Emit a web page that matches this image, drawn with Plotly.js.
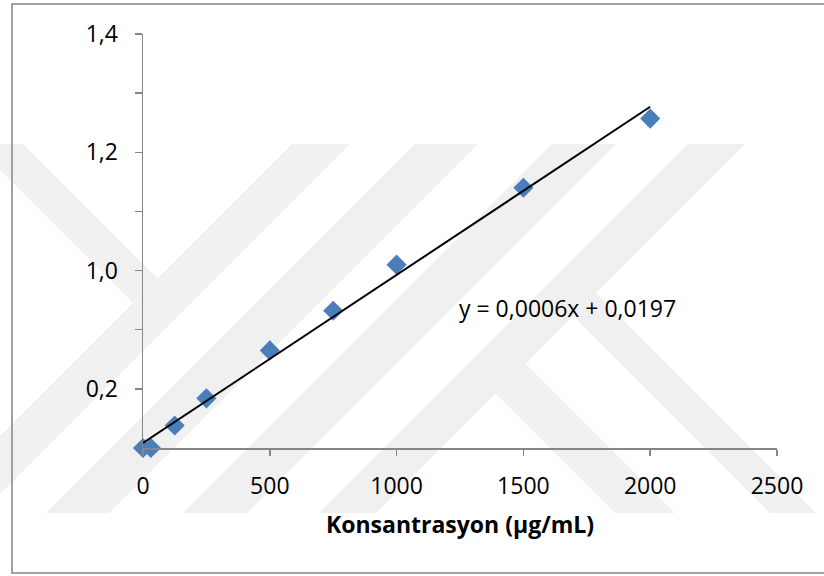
<!DOCTYPE html>
<html>
<head>
<meta charset="utf-8">
<script src="https://cdn.plot.ly/plotly-3.0.1.min.js"></script>
<style>html,body{margin:0;padding:0;background:#fff;}#chart{width:824px;height:576px;}</style>
</head>
<body>
<div id="chart"></div>
<script>
// ---- data ----
const concentration = [0, 31.25, 125, 250, 500, 750, 1000, 1500, 2000];
const absorbance    = [0.700, 0.700, 0.738, 0.784, 0.865, 0.932, 1.010, 1.140, 1.257];
const xTickVals  = [0, 500, 1000, 1500, 2000, 2500];
const xTickText  = ['0', '500', '1000', '1500', '2000', '2500'];
const yTickVals  = [0.8, 0.9, 1.0, 1.1, 1.2, 1.3, 1.4];
const yTickText  = ['0,2', '', '1,0', '', '1,2', '', '1,4'];
const xTitle = 'Konsantrasyon (µg/mL)';
const eqText = 'y = 0,0006x + 0,0197';

// least-squares trend line from the data
const n = concentration.length;
const mx = concentration.reduce((a, v) => a + v, 0) / n;
const my = absorbance.reduce((a, v) => a + v, 0) / n;
let sxy = 0, sxx = 0;
for (let i = 0; i < n; i++) {
  sxy += (concentration[i] - mx) * (absorbance[i] - my);
  sxx += (concentration[i] - mx) ** 2;
}
const slope = sxy / sxx, intercept = my - slope * mx;
const xMin = Math.min(...concentration), xMax = Math.max(...concentration);

// ---- layout geometry ----
const W = 824, H = 576;
const M = {l: 143, r: 47, t: 34, b: 128};
const px = x => (x - M.l) / (W - M.l - M.r);
const py = y => 1 - (y - M.t) / (H - M.t - M.b);

// decorative background watermark (pixel outlines)
const watermark = [
  [[-26,144],[23,144],[157,278],[133,303]],
  [[292,144],[350,144],[-19,513],[-77,513]],
  [[415,144],[478,144],[109,513],[46,513]],
  [[552,144],[616,144],[247,513],[183,513]],
  [[688,144],[745,144],[376,513],[319,513]],
  [[495,393],[525,363],[675,513],[615,513]],
  [[573,316],[596,293],[816,513],[770,513]]
];
const shapes = watermark.map(poly => ({
  type: 'path', xref: 'paper', yref: 'paper', layer: 'below',
  path: 'M ' + poly.map(p => px(p[0]).toFixed(4) + ',' + py(p[1]).toFixed(4)).join(' L ') + ' Z',
  fillcolor: '#f0f0f0', line: {width: 0}
}));
shapes.push({
  type: 'rect', xref: 'paper', yref: 'paper', layer: 'above',
  x0: px(12), x1: px(832), y0: py(573), y1: py(4),
  line: {color: '#a0a0a0', width: 2}, fillcolor: 'rgba(0,0,0,0)'
});

const traces = [
  {
    x: concentration, y: absorbance, type: 'scatter', mode: 'markers',
    marker: {symbol: 'diamond', size: 15.5, color: '#4a7ebb'},
    cliponaxis: false, hoverinfo: 'skip', showlegend: false
  },
  {
    x: [xMin, xMax], y: [intercept + slope * xMin, intercept + slope * xMax],
    type: 'scatter', mode: 'lines',
    line: {color: '#000000', width: 2},
    cliponaxis: false, hoverinfo: 'skip', showlegend: false
  }
];

const layout = {
  width: W, height: H,
  margin: M,
  paper_bgcolor: 'rgba(0,0,0,0)', plot_bgcolor: 'rgba(0,0,0,0)',
  font: {family: 'Open Sans, sans-serif', color: '#000'},
  showlegend: false,
  xaxis: {
    range: [0, 2500], tickvals: xTickVals, ticktext: xTickText,
    showgrid: false, zeroline: false, showline: true,
    linecolor: '#868686', linewidth: 1.5,
    ticks: 'outside', ticklen: 6, tickwidth: 1.5, tickcolor: '#868686',
    tickfont: {size: 23, family: 'Open Sans, sans-serif', color: '#000'},
    ticklabelstandoff: 11,
    title: {text: xTitle, font: {size: 23, family: 'Open Sans, sans-serif', weight: 'bold', color: '#000'}, standoff: 17}
  },
  yaxis: {
    range: [0.7, 1.4], tickvals: yTickVals, ticktext: yTickText,
    showgrid: false, zeroline: false, showline: true,
    linecolor: '#868686', linewidth: 1.5,
    ticks: 'outside', ticklen: 7, tickwidth: 1.5, tickcolor: '#868686',
    tickfont: {size: 23, family: 'Open Sans, sans-serif', color: '#000'},
    ticklabelstandoff: 12
  },
  shapes: shapes,
  annotations: [{
    x: 1674, y: 0.9375, xref: 'x', yref: 'y', text: eqText, showarrow: false,
    font: {size: 23, family: 'Open Sans, sans-serif', color: '#000'}
  }]
};

Plotly.newPlot('chart', traces, layout, {staticPlot: true, displayModeBar: false});
</script>
</body>
</html>
